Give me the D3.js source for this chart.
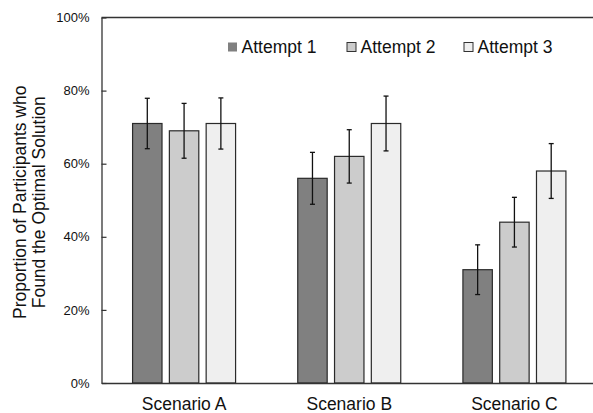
<!DOCTYPE html>
<html>
<head>
<meta charset="utf-8">
<script src="https://cdn.jsdelivr.net/npm/d3@7"></script>
<style>
  body { margin: 0; background: #fff; }
  svg { display: block; font-family: "Liberation Sans", Arial, sans-serif; }
</style>
</head>
<body>
<svg id="chart" width="593" height="413"></svg>
<script>
const scenarios = ["Scenario A", "Scenario B", "Scenario C"];
const attempts = ["Attempt 1", "Attempt 2", "Attempt 3"];
const attempt1 = [0.71, 0.56, 0.31];
const attempt2 = [0.69, 0.62, 0.44];
const attempt3 = [0.71, 0.71, 0.58];
const err1 = [0.069, 0.071, 0.068];
const err2 = [0.075, 0.073, 0.068];
const err3 = [0.070, 0.075, 0.075];
const yTicks = [0, 0.2, 0.4, 0.6, 0.8, 1.0];
const fills = ["#808080", "#cccccc", "#efefef"];

const values = [attempt1, attempt2, attempt3];
const errs = [err1, err2, err3];

const rows = [];
scenarios.forEach((s, i) => {
  attempts.forEach((a, j) => {
    rows.push({ scenario: s, attempt: a, k: j, value: values[j][i], err: errs[j][i] });
  });
});

const svg = d3.select("#chart");
const mLeft = 101.5, mRight = 597, mTop = 17.5, mBottom = 383;

const x0 = d3.scaleBand().domain(scenarios).range([mLeft, mRight]).padding(0);
const x1 = d3.scaleBand().domain(attempts).range([-51.5, 51.5]).paddingInner(0.2).paddingOuter(0);
const y = d3.scaleLinear().domain([0, 1]).range([mBottom, mTop]);

// frame top line
svg.append("line")
    .attr("x1", mLeft).attr("x2", mRight).attr("y1", mTop).attr("y2", mTop)
    .attr("stroke", "#333").attr("stroke-width", 1.3);

// y axis (ticks inside)
const yAxis = svg.append("g")
    .attr("transform", `translate(${mLeft},0)`)
    .call(d3.axisLeft(y).tickValues(yTicks).tickFormat(d3.format(".0%"))
      .tickSizeInner(-5).tickSizeOuter(0).tickPadding(12));
yAxis.select(".domain").attr("stroke", "#333").attr("stroke-width", 1.3);
yAxis.selectAll(".tick line").attr("stroke", "#333").attr("stroke-width", 1.2);
yAxis.selectAll("text").attr("font-size", 13).attr("fill", "#111");

// bars
const g = svg.append("g");
g.selectAll("rect")
  .data(rows)
  .enter().append("rect")
    .attr("x", d => x0(d.scenario) + x0.bandwidth() / 2 + x1(d.attempt))
    .attr("y", d => y(d.value))
    .attr("width", x1.bandwidth())
    .attr("height", d => mBottom - y(d.value))
    .attr("fill", d => fills[d.k])
    .attr("stroke", "#2a2a2a")
    .attr("stroke-width", 1.2);

// error bars
const eb = svg.append("g").attr("stroke", "#111").attr("stroke-width", 1.3);
rows.forEach(d => {
  const cx = x0(d.scenario) + x0.bandwidth() / 2 + x1(d.attempt) + x1.bandwidth() / 2;
  const y1 = y(d.value + d.err), y2 = y(d.value - d.err);
  eb.append("line").attr("x1", cx).attr("x2", cx).attr("y1", y1).attr("y2", y2);
  eb.append("line").attr("x1", cx - 2.5).attr("x2", cx + 2.5).attr("y1", y1).attr("y2", y1);
  eb.append("line").attr("x1", cx - 2.5).attr("x2", cx + 2.5).attr("y1", y2).attr("y2", y2);
});

// x axis
const xAxis = svg.append("g")
    .attr("transform", `translate(0,${mBottom})`)
    .call(d3.axisBottom(x0).tickSize(0).tickPadding(14.5));
xAxis.select(".domain").attr("stroke", "#333").attr("stroke-width", 1.3);
xAxis.selectAll("text").attr("font-size", 17.5).attr("fill", "#111");

// y title
const yt = svg.append("text")
    .attr("transform", `translate(0,${(mTop + mBottom) / 2 + 2}) rotate(-90)`)
    .attr("text-anchor", "middle")
    .attr("font-size", 17.5)
    .attr("fill", "#111");
yt.append("tspan").attr("x", 0).attr("y", 26).text("Proportion of Participants who");
yt.append("tspan").attr("x", 0).attr("y", 44.5).text("Found the Optimal Solution");

// legend
const legX = [228, 347, 464];
const leg = svg.append("g");
attempts.forEach((a, j) => {
  leg.append("rect")
    .attr("x", legX[j]).attr("y", 42.5).attr("width", 9).attr("height", 9)
    .attr("fill", fills[j])
    .attr("stroke", j === 0 ? "none" : "#333").attr("stroke-width", 1);
  leg.append("text")
    .attr("x", legX[j] + 13.5).attr("y", 53)
    .attr("font-size", 17.5).attr("fill", "#111")
    .text(a);
});
</script>
</body>
</html>
